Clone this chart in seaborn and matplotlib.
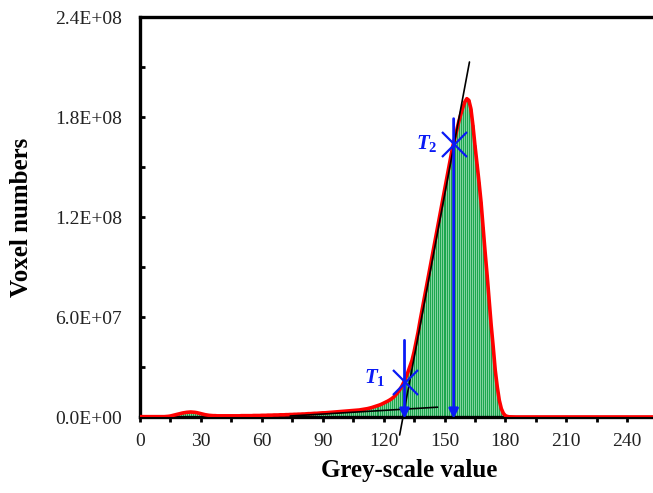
import numpy as np
import pandas as pd
import matplotlib
matplotlib.use("Agg")
import matplotlib.pyplot as plt
import seaborn as sns
from matplotlib.ticker import FuncFormatter, MultipleLocator

# ---- data (voxel counts in millions, grey values 0..255) ----
counts_millions = [
    # 0-19
    0.2, 0.2, 0.2, 0.2, 0.2, 0.2, 0.2, 0.2, 0.2, 0.2,
    0.2, 0.2, 0.2, 0.3, 0.4, 0.6, 0.9, 1.2, 1.5, 1.8,
    # 20-39
    2.1, 2.4, 2.6, 2.8, 2.9, 3.0, 2.9, 2.8, 2.6, 2.3,
    2.0, 1.7, 1.4, 1.2, 1.0, 0.9, 0.8, 0.8, 0.7, 0.7,
    # 40-59
    0.7, 0.7, 0.7, 0.7, 0.7, 0.7, 0.7, 0.7, 0.7, 0.7,
    0.8, 0.8, 0.8, 0.8, 0.8, 0.8, 0.9, 0.9, 0.9, 0.9,
    # 60-79
    1.0, 1.0, 1.0, 1.1, 1.1, 1.1, 1.2, 1.2, 1.2, 1.3,
    1.3, 1.3, 1.4, 1.4, 1.5, 1.5, 1.6, 1.6, 1.7, 1.7,
    # 80-99
    1.8, 1.8, 1.9, 2.0, 2.0, 2.1, 2.2, 2.2, 2.3, 2.4,
    2.5, 2.5, 2.6, 2.7, 2.8, 2.9, 3.0, 3.1, 3.2, 3.3,
    # 100-119
    3.4, 3.5, 3.6, 3.7, 3.8, 3.9, 4.0, 4.1, 4.2, 4.4,
    4.6, 4.8, 5.0, 5.3, 5.6, 6.0, 6.4, 6.8, 7.2, 7.7,
    # 120-139
    8.3, 8.9, 9.5, 10.2, 11.0, 12.0, 13.3, 14.8, 16.5, 18.5,
    21.0, 23.8, 27.0, 30.5, 34.0, 39.0, 45.0, 51.0, 58.0, 64.5,
    # 140-159
    71.0, 77.5, 84.0, 90.5, 97.0, 103.5, 110.0, 116.5, 123.0, 129.5,
    136.0, 142.5, 149.0, 155.5, 162.0, 167.0, 172.0, 177.0, 181.5, 185.5,
    # 160-179
    189.0, 191.0, 190.0, 185.0, 175.0, 163.0, 152.0, 141.0, 129.0, 114.0,
    99.0, 85.0, 70.0, 55.0, 42.0, 28.0, 18.0, 10.0, 5.0, 2.2,
    # 180-199
    0.8, 0.3, 0.1, 0.05, 0.0, 0.0, 0.0, 0.0, 0.0, 0.0,
    0.0, 0.0, 0.0, 0.0, 0.0, 0.0, 0.0, 0.0, 0.0, 0.0,
    # 200-255
    0.0, 0.0, 0.0, 0.0, 0.0, 0.0, 0.0, 0.0, 0.0, 0.0,
    0.0, 0.0, 0.0, 0.0, 0.0, 0.0, 0.0, 0.0, 0.0, 0.0,
    0.0, 0.0, 0.0, 0.0, 0.0, 0.0, 0.0, 0.0, 0.0, 0.0,
    0.0, 0.0, 0.0, 0.0, 0.0, 0.0, 0.0, 0.0, 0.0, 0.0,
    0.0, 0.0, 0.0, 0.0, 0.0, 0.0, 0.0, 0.0, 0.0, 0.0,
    0.0, 0.0, 0.0, 0.0, 0.0, 0.0,
]
grey_values = list(range(256))

# tangent lines (grey value, voxel count)
steep_tangent_x = [127.9, 162.3]
steep_tangent_y = [-1.08e7, 2.13e8]
flat_tangent_x = [74.0, 146.6]
flat_tangent_y = [0.6e6, 5.9e6]

# thresholds
threshold_names = ["$T_1$", "$T_2$"]
threshold_x = [130.3, 154.5]
threshold_y = [2.1e7, 1.64e8]
arrow_top_y = [4.6e7, 1.79e8]
label_x = [115.5, 141.5]
label_y = [2.34e7, 1.64e8]

x_ticks = [0, 30, 60, 90, 120, 150, 180, 210, 240]
y_ticks = [0, 6e7, 1.2e8, 1.8e8, 2.4e8]

df = pd.DataFrame({"grey": grey_values,
                   "count": np.array(counts_millions) * 1e6})

# ---- style ----
sns.set_style("white")
plt.rcParams["font.family"] = ["Liberation Serif", "DejaVu Serif"]
plt.rcParams["text.color"] = "black"
plt.rcParams["axes.labelcolor"] = "black"
plt.rcParams["xtick.color"] = "black"
plt.rcParams["ytick.color"] = "black"
plt.rcParams["mathtext.fontset"] = "custom"
plt.rcParams["mathtext.it"] = "Liberation Serif:italic:bold"
plt.rcParams["mathtext.rm"] = "Liberation Serif:bold"
plt.rcParams["mathtext.bf"] = "Liberation Serif:bold"

AX_W_PX = 255 * 2.03
fig = plt.figure(figsize=(6.53, 4.93), dpi=100)
ax = fig.add_axes([140 / 653, 76 / 493, AX_W_PX / 653, 400 / 493])

sns.histplot(data=df, x="grey", weights="count", discrete=True, shrink=1.0,
             color="#1ca64e", edgecolor="#9adfb4", linewidth=0.45, alpha=1.0,
             ax=ax, zorder=2)
sns.lineplot(data=df, x="grey", y="count", color="#ff0000", linewidth=2.6,
             ax=ax, zorder=3)

ax.plot(flat_tangent_x, flat_tangent_y, color="black", lw=1.2, zorder=4)
ax.plot(steep_tangent_x, steep_tangent_y, color="black", lw=1.2, zorder=4,
        clip_on=False)

for name, tx, ty, top, lx, ly in zip(threshold_names, threshold_x, threshold_y,
                                     arrow_top_y, label_x, label_y):
    ax.annotate("", xy=(tx, -1.0e6), xytext=(tx, top),
                arrowprops=dict(arrowstyle="-|>", color="#0a1af5", lw=2.0,
                                mutation_scale=14, shrinkA=0, shrinkB=0),
                zorder=5, annotation_clip=False)
    ax.plot([tx], [ty], marker="x", markersize=18, markeredgewidth=1.6,
            color="#0a1af5", zorder=6)
    ax.text(lx, ly, name, color="#0a1af5", fontsize=15, ha="center",
            va="center", zorder=6)

ax.set_xlim(0, 255)
ax.set_ylim(0, 2.4e8)
ax.set_xticks(x_ticks)
ax.xaxis.set_minor_locator(MultipleLocator(15))
ax.set_yticks(y_ticks)
ax.yaxis.set_minor_locator(MultipleLocator(3e7))
ax.yaxis.set_major_formatter(FuncFormatter(lambda v, p: "{:.1E}".format(v)))

ax.tick_params(axis="x", which="both", direction="out", length=3.5, width=2,
               color="black", labelsize=14, pad=8, bottom=True,
               labelcolor="#222222")
ax.tick_params(axis="y", which="both", direction="in", length=3.5, width=2,
               color="black", labelsize=14, pad=13, left=True,
               labelcolor="#222222")

for side in ["left", "top", "bottom"]:
    ax.spines[side].set_visible(True)
    ax.spines[side].set_color("black")
    ax.spines[side].set_linewidth(2.4)
ax.spines["right"].set_visible(False)

ax.set_xlabel("Grey-scale value", fontsize=18, fontweight="bold")
ax.set_ylabel("Voxel numbers", fontsize=18, fontweight="bold")
ax.xaxis.set_label_coords((409 - 140) / AX_W_PX, -0.105)
ax.yaxis.set_label_coords(-(140 - 33) / AX_W_PX, 0.5)

fig.savefig("out.png", dpi=100)
